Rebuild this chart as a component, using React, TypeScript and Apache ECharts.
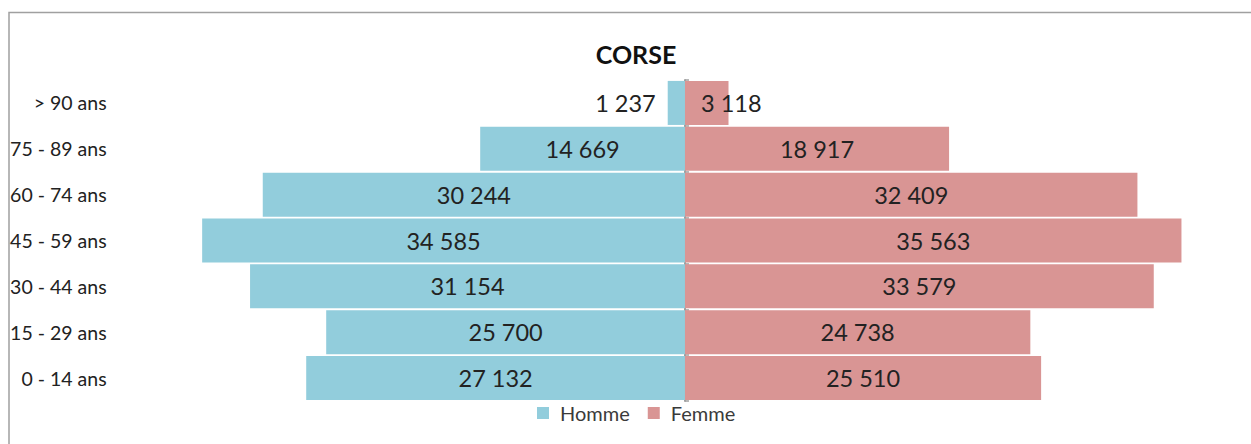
import React, { useEffect, useRef } from "react";
import * as echarts from "echarts";

const categories = ["0 - 14 ans", "15 - 29 ans", "30 - 44 ans", "45 - 59 ans", "60 - 74 ans", "75 - 89 ans", "> 90 ans"];
const homme = [27132, 25700, 31154, 34585, 30244, 14669, 1237];
const femme = [25510, 24738, 33579, 35563, 32409, 18917, 3118];
const seriesNames = ["Homme", "Femme"];
const title = "CORSE";

const fmt = (v: number) => String(Math.abs(v)).replace(/\B(?=(\d{3})+(?!\d))/g, " ");

export default function App() {
  const ref = useRef<HTMLDivElement>(null);
  useEffect(() => {
    const chart = echarts.init(ref.current!, null, { renderer: "svg" });
    const font = "Lato, 'Open Sans', sans-serif";
    const labelStyle = { fontSize: 23.5, color: "#222", fontFamily: font };
    chart.setOption({
      animation: false,
      backgroundColor: "#fff",
      title: {
        text: title,
        left: 631,
        textAlign: "center",
        top: 36,
        textStyle: { fontSize: 25, fontWeight: "bold", color: "#111", fontFamily: font },
      },
      legend: {
        data: seriesNames,
        left: 537,
        top: 403,
        itemWidth: 12,
        itemHeight: 12,
        itemGap: 18,
        icon: "rect",
        padding: 0,
        textStyle: { fontSize: 20, color: "#3a3a3a", fontFamily: font, padding: [0, 0, 0, 6] },
      },
      grid: { left: 112.6, top: 80, width: 1130.8, height: 321, containLabel: false },
      xAxis: {
        type: "value",
        min: -41000,
        max: 40000,
        show: false,
      },
      yAxis: [
        {
          type: "category",
          data: categories,
          position: "left",
          axisLine: { show: false, onZero: false },
          axisTick: { show: false },
          axisLabel: { fontSize: 19.5, color: "#222", fontFamily: font, margin: 6 },
        },
        {
          type: "category",
          data: categories,
          axisLine: { show: true, onZero: true, lineStyle: { color: "#a0a0a0", width: 2 } },
          axisTick: { show: true, length: 4, lineStyle: { color: "#a0a0a0", width: 1.5 } },
          axisLabel: { show: false },
        },
      ],
      series: [
        {
          name: seriesNames[0],
          type: "bar",
          yAxisIndex: 0,
          barGap: "-100%",
          barCategoryGap: "4%",
          itemStyle: { color: "#92CDDC" },
          data: homme.map((v, i) => ({
            value: -v,
            label: i === homme.length - 1 ? { position: "left", distance: 12 } : undefined,
          })),
          label: { show: true, position: "inside", formatter: (p: any) => fmt(p.value), ...labelStyle },
          z: 1,
        },
        {
          name: seriesNames[1],
          type: "bar",
          yAxisIndex: 0,
          barGap: "-100%",
          barCategoryGap: "4%",
          itemStyle: { color: "#D99594" },
          data: femme.map((v, i) => ({
            value: v,
            label: i === femme.length - 1 ? { position: "insideLeft", distance: 16 } : undefined,
          })),
          label: { show: true, position: "inside", formatter: (p: any) => fmt(p.value), ...labelStyle },
          z: 1,
        },
      ],
      graphic: [
        {
          type: "rect",
          shape: { x: 9, y: 12.5, width: 1260, height: 460 },
          style: { fill: "none", stroke: "#a0a0a0", lineWidth: 1.5 },
          silent: true,
        },
      ],
    });
    return () => chart.dispose();
  }, []);
  return <div ref={ref} style={{ position: "absolute", left: 0, top: 0, width: 1251, height: 444 }} />;
}
